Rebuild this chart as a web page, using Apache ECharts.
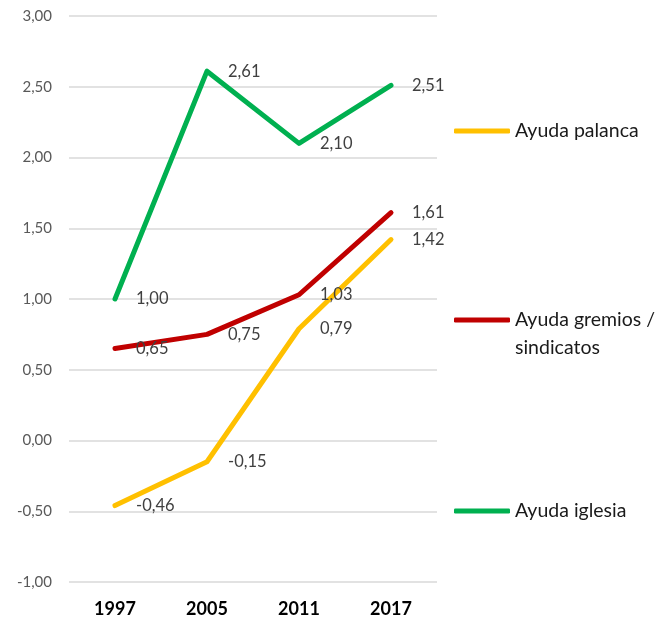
<!DOCTYPE html>
<html>
<head>
<meta charset="utf-8">
<script src="https://cdn.jsdelivr.net/npm/echarts@6/dist/echarts.min.js"></script>
<style>
  html, body { margin: 0; padding: 0; background: #fff; }
  #chart { width: 662px; height: 619px; }
</style>
</head>
<body>
<div id="chart"></div>
<script>
const years = ['1997', '2005', '2011', '2017'];
const palanca = [-0.46, -0.15, 0.79, 1.42];
const gremios = [0.65, 0.75, 1.03, 1.61];
const iglesia = [1.00, 2.61, 2.10, 2.51];

const FONT = 'Lato, "Open Sans", sans-serif';
const fmt = v => v.toFixed(2).replace('.', ',');

function lineSeries(name, data, color) {
    return {
        name: name,
        type: 'line',
        data: data,
        symbol: 'circle',
        symbolSize: 0,
        lineStyle: { width: 5, color: color, cap: 'round', join: 'round' },
        itemStyle: { color: color },
        label: {
            show: true,
            position: 'right',
            distance: 21,
            color: '#404040',
            fontFamily: FONT,
            fontSize: 16.5,
            formatter: p => fmt(p.value)
        }
    };
}

function legendAt(name, top) {
    return {
        data: [name],
        left: 449,
        top: top,
        orient: 'vertical',
        icon: 'roundRect',
        itemWidth: 56,
        itemHeight: 5,
        selectedMode: false,
        textStyle: {
            color: '#1a1a1a',
            fontFamily: FONT,
            fontSize: 19.5,
            lineHeight: 28
        }
    };
}

const chart = echarts.init(document.getElementById('chart'));

chart.setOption({
    animation: false,
    grid: { left: 69, right: 225, top: 16, bottom: 37 },
    legend: [
        legendAt('Ayuda palanca', 112),
        Object.assign(legendAt('Ayuda gremios / sindicatos', 273), {
            // empty first line keeps the icon level with the first text line
            formatter: () => '\nAyuda gremios /\nsindicatos'
        }),
        legendAt('Ayuda iglesia', 492)
    ],
    xAxis: {
        type: 'category',
        data: years,
        axisLine: { show: false },
        axisTick: { show: false },
        axisLabel: {
            color: '#000',
            fontFamily: FONT,
            fontWeight: 'bold',
            fontSize: 18,
            margin: 18
        }
    },
    yAxis: {
        type: 'value',
        min: -1,
        max: 3,
        interval: 0.5,
        axisLine: { show: false },
        axisTick: { show: false },
        splitLine: { lineStyle: { color: '#d9d9d9', width: 1.5 } },
        axisLabel: {
            color: '#595959',
            fontFamily: FONT,
            fontSize: 15,
            margin: 17,
            formatter: fmt
        }
    },
    series: [
        lineSeries('Ayuda palanca', palanca, '#FFC000'),
        lineSeries('Ayuda gremios / sindicatos', gremios, '#C00000'),
        lineSeries('Ayuda iglesia', iglesia, '#00B050')
    ]
});
</script>
</body>
</html>
